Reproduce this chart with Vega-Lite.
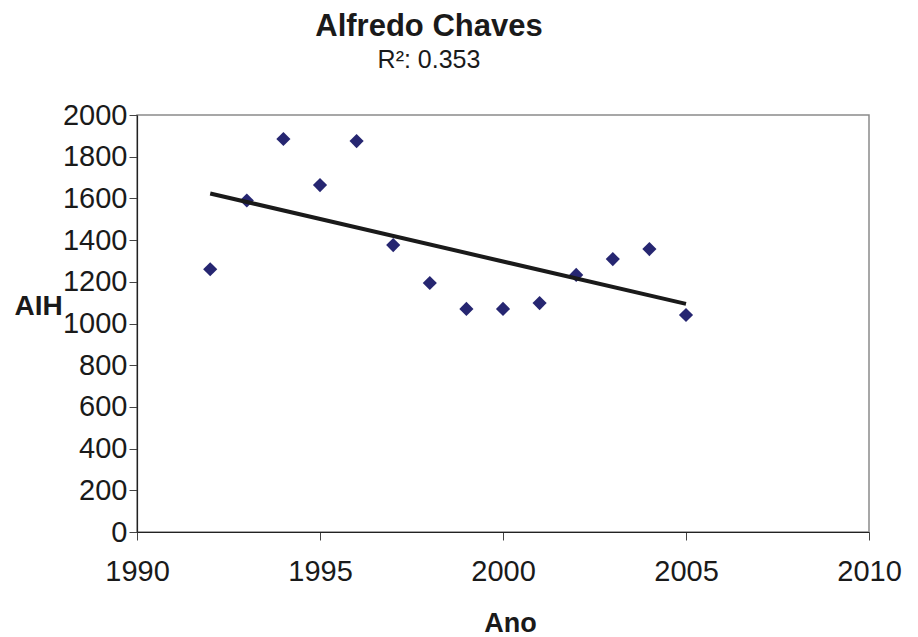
{
  "$schema": "https://vega.github.io/schema/vega-lite/v6.json",
  "width": 732,
  "height": 417,
  "autosize": {"type": "none"},
  "padding": {"left": 137, "top": 115, "right": 49, "bottom": 105},
  "background": "white",
  "config": {
    "font": "Liberation Sans",
    "view": {"stroke": "#8a8a8a", "strokeWidth": 1.5},
    "axis": {
      "grid": false,
      "domainColor": "#222222",
      "domainWidth": 1.2,
      "tickColor": "#444444",
      "tickWidth": 1,
      "tickSize": 8,
      "labelFont": "Liberation Sans",
      "labelFontSize": 29,
      "labelColor": "#1a1a1a",
      "labelFlush": false,
      "titleFont": "Liberation Sans",
      "titleFontWeight": "bold",
      "titleFontSize": 27,
      "titleColor": "#1a1a1a"
    }
  },
  "title": {
    "text": "Alfredo Chaves",
    "subtitle": "R²: 0.353",
    "anchor": "middle",
    "frame": "group",
    "dx": -74,
    "offset": 27,
    "font": "Liberation Sans",
    "fontSize": 31,
    "fontWeight": "bold",
    "color": "#1a1a1a",
    "subtitleFont": "Liberation Sans",
    "subtitleFontSize": 25,
    "subtitleColor": "#1a1a1a",
    "subtitlePadding": 5
  },
  "data": {
    "values": [
      {"Ano": 1992, "AIH": 1260},
      {"Ano": 1993, "AIH": 1590},
      {"Ano": 1994, "AIH": 1885},
      {"Ano": 1995, "AIH": 1664},
      {"Ano": 1996, "AIH": 1875},
      {"Ano": 1997, "AIH": 1376},
      {"Ano": 1998, "AIH": 1194},
      {"Ano": 1999, "AIH": 1070},
      {"Ano": 2000, "AIH": 1070},
      {"Ano": 2001, "AIH": 1098},
      {"Ano": 2002, "AIH": 1233},
      {"Ano": 2003, "AIH": 1309},
      {"Ano": 2004, "AIH": 1357},
      {"Ano": 2005, "AIH": 1041}
    ]
  },
  "encoding": {
    "x": {
      "field": "Ano",
      "type": "quantitative",
      "scale": {"domain": [1990, 2010], "nice": false, "zero": false},
      "axis": {
        "values": [1990, 1995, 2000, 2005, 2010],
        "format": "d",
        "title": "Ano",
        "labelPadding": 17,
        "titleX": 373,
        "titleY": 99,
        "titleBaseline": "alphabetic"
      }
    },
    "y": {
      "field": "AIH",
      "type": "quantitative",
      "scale": {"domain": [0, 2000], "nice": false},
      "axis": {
        "values": [0, 200, 400, 600, 800, 1000, 1200, 1400, 1600, 1800, 2000],
        "format": "d",
        "title": "AIH",
        "labelPadding": 2,
        "titleAngle": 0,
        "titleAlign": "left",
        "titleBaseline": "middle",
        "titleFontSize": 28,
        "titleX": -123,
        "titleY": 191
      }
    }
  },
  "layer": [
    {
      "mark": {"type": "point", "shape": "diamond", "filled": true, "size": 200, "color": "#262671", "opacity": 1}
    },
    {
      "transform": [{"regression": "AIH", "on": "Ano", "method": "linear"}],
      "mark": {"type": "line", "color": "#1a1a1a", "strokeWidth": 4}
    }
  ]
}
